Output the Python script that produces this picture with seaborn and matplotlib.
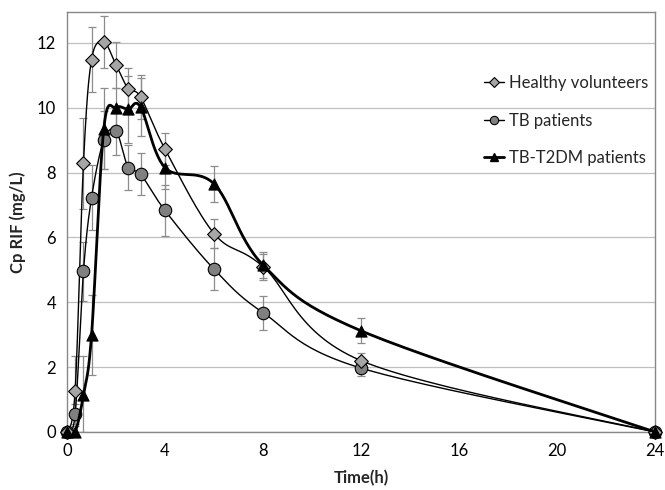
import numpy as np
import pandas as pd
import matplotlib
matplotlib.use("Agg")
import matplotlib.pyplot as plt
import seaborn as sns
from matplotlib.lines import Line2D

time_h = [0, 0.33, 0.67, 1, 1.5, 2, 2.5, 3, 4, 6, 8, 12, 24]

healthy = [0, 1.27, 8.28, 11.48, 12.02, 11.32, 10.58, 10.33, 8.72, 6.12, 5.10, 2.20, 0]
healthy_sd = [0, 1.08, 1.40, 1.00, 0.80, 0.72, 0.65, 0.67, 0.50, 0.45, 0.40, 0.25, 0]

tb = [0, 0.55, 4.95, 7.22, 9.00, 9.28, 8.15, 7.95, 6.83, 5.02, 3.68, 1.97, 0]
tb_sd = [0, 0.30, 0.90, 1.00, 0.90, 0.75, 0.70, 0.65, 0.78, 0.65, 0.52, 0.25, 0]

t2dm = [0, 0, 1.15, 2.98, 9.35, 10.00, 9.95, 10.02, 8.15, 7.65, 5.15, 3.12, 0]
t2dm_sd = [0, 0, 1.20, 1.23, 1.25, 0.60, 1.03, 0.90, 0.65, 0.55, 0.40, 0.38, 0]

series_names = ["Healthy volunteers", "TB patients", "TB-T2DM patients"]
x_ticks = [0, 4, 8, 12, 16, 20, 24]
y_ticks = [0, 2, 4, 6, 8, 10, 12]

sns.set_theme(style="white")
plt.rcParams['font.family'] = ['Lato', 'DejaVu Sans']

fig = plt.figure(figsize=(6.65, 4.9), dpi=100)
ax = fig.add_axes([0.1008, 0.1184, 0.8842, 0.8571])

ax.set_xlim(0, 24)
ax.set_ylim(0, 12.95)


def smooth_curve(xs, ys, xscale=24.5, yscale=32.4, n=30):
    """Excel-like smoothed line (Catmull-Rom Bezier) computed in pixel-like space."""
    P = np.column_stack([np.asarray(xs, float) * xscale, np.asarray(ys, float) * yscale])
    out = []
    m = len(P)
    for i in range(m - 1):
        p0 = P[i - 1] if i > 0 else P[i]
        p1 = P[i]
        p2 = P[i + 1]
        p3 = P[i + 2] if i + 2 < m else P[i + 1]
        c1 = p1 + (p2 - p0) / 6.0
        c2 = p2 - (p3 - p1) / 6.0
        t = np.linspace(0, 1, n)[:, None]
        seg = ((1 - t) ** 3) * p1 + 3 * ((1 - t) ** 2) * t * c1 + 3 * (1 - t) * t ** 2 * c2 + t ** 3 * p2
        out.append(seg if i == 0 else seg[1:])
    out = np.vstack(out)
    return out[:, 0] / xscale, out[:, 1] / yscale


ax.grid(axis='y', color='#bfbfbf', linewidth=0.9)
ax.grid(axis='x', visible=False)
ax.set_axisbelow(True)

styles = [
    dict(vals=healthy, sd=healthy_sd, marker='D', ms=7, fc='#a6a6a6', lw=1.0, z=4),
    dict(vals=tb, sd=tb_sd, marker='o', ms=9, fc='#808080', lw=1.0, z=3),
    dict(vals=t2dm, sd=t2dm_sd, marker='^', ms=8, fc='#000000', lw=2.0, z=5),
]

for name, st in zip(series_names, styles):
    vals = np.array(st['vals'])
    sd = np.array(st['sd'])
    lower = np.minimum(sd, vals)
    ax.errorbar(time_h, vals, yerr=[lower, sd], fmt='none', ecolor='#8c8c8c',
                elinewidth=0.9, capsize=3, capthick=0.9, zorder=2)
    sx, sy = smooth_curve(time_h, vals)
    dfl = pd.DataFrame({'t': sx, 'c': sy})
    sns.lineplot(data=dfl, x='t', y='c', sort=False, estimator=None, color='black',
                 linewidth=st['lw'], ax=ax, zorder=st['z'])
    dfp = pd.DataFrame({'t': time_h, 'c': vals})
    sns.scatterplot(data=dfp, x='t', y='c', marker=st['marker'], s=st['ms'] ** 2,
                    color=st['fc'], edgecolor='black', linewidth=0.8, ax=ax,
                    zorder=st['z'] + 1, clip_on=False)

ax.set_xticks(x_ticks)
ax.set_yticks(y_ticks)
ax.set_xticklabels([str(v) for v in x_ticks], fontsize=12)
ax.set_yticklabels([str(v) for v in y_ticks], fontsize=12)
ax.tick_params(axis='both', length=0, pad=8, colors='black')

for sp in ax.spines.values():
    sp.set_color('#888888')
    sp.set_linewidth(1.0)

ax.set_xlabel("Time(h)", fontsize=12, fontweight='bold', labelpad=8)
ax.set_ylabel("Cp RIF (mg/L)", fontsize=12, fontweight='bold', labelpad=8)

handles = [
    Line2D([0], [0], color='black', lw=1.0, marker='D', ms=5, mfc='#a6a6a6', mec='black', mew=0.8),
    Line2D([0], [0], color='black', lw=1.0, marker='o', ms=6, mfc='#808080', mec='black', mew=0.8),
    Line2D([0], [0], color='black', lw=2.0, marker='^', ms=6, mfc='black', mec='black'),
]
leg = ax.legend(handles, series_names, loc='upper right', bbox_to_anchor=(1.0, 0.866),
                borderaxespad=0, frameon=False, fontsize=12, handlelength=1.2,
                handletextpad=0.3, labelspacing=1.3)

fig.savefig("out.png", dpi=100)
